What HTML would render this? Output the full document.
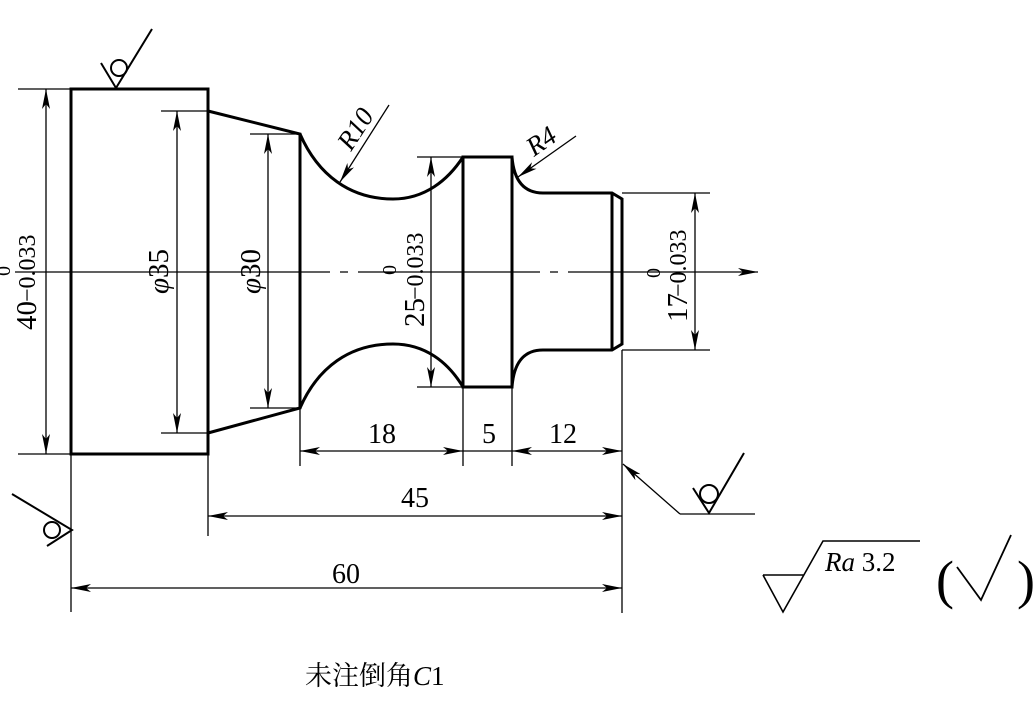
<!DOCTYPE html>
<html><head><meta charset="utf-8"><style>
html,body{margin:0;padding:0;background:#fff;}
svg{display:block}
text{font-family:"Liberation Serif","Noto Serif CJK SC",serif;fill:#000}
</style></head><body>
<svg width="1036" height="706" viewBox="0 0 1036 706" xmlns="http://www.w3.org/2000/svg">
<defs>
<marker id="a" viewBox="0 0 20 8" refX="20" refY="4" markerWidth="20" markerHeight="8" markerUnits="userSpaceOnUse" orient="auto-start-reverse">
<path d="M0,0 L20,4 L0,8 L5,4 Z" fill="#000"/></marker>
</defs>
<g fill="none" stroke="#000">
<g stroke-width="3">
<rect x="71" y="89" width="137" height="365"/>
<path d="M208,111 L300,134 L300,408 L208,433"/>
<path d="M300,134 C318,175 350,199 393,199 C425,199 448,180 463,157"/>
<path d="M300,408 C318,367 350,344 393,344 C425,344 448,362 463,387"/>
<rect x="463" y="157" width="49" height="230"/>
<path d="M512,157 C514,182 525,193 543,193 L612,193 L622,199 L622,344 L612,350 L543,350 C525,350 514,361 512,387"/>
<path d="M612,193 L612,350"/>
</g>
<g stroke-width="1.3">
<path d="M15,272 L330,272 M340,272 L348,272 M358,272 L540,272 M550,272 L558,272 M568,272 L740,272" stroke-width="1.2"/>
<path d="M740,272 L758,272" marker-end="url(#a)"/>
<path d="M18,89 L71,89 M18,454 L71,454"/>
<path d="M161,111 L208,111 M161,433 L208,433"/>
<path d="M250,134 L300,134 M250,408 L300,408"/>
<path d="M417,157 L463,157 M417,387 L463,387"/>
<path d="M622,193 L710,193 M622,350 L710,350"/>
<path d="M300,408 L300,466 M463,387 L463,466 M512,387 L512,466 M622,350 L622,613 M208,454 L208,536 M71,454 L71,612"/>
<path d="M46,89 L46,454" marker-start="url(#a)" marker-end="url(#a)"/>
<path d="M177,111 L177,433" marker-start="url(#a)" marker-end="url(#a)"/>
<path d="M268,134 L268,408" marker-start="url(#a)" marker-end="url(#a)"/>
<path d="M431,157 L431,387" marker-start="url(#a)" marker-end="url(#a)"/>
<path d="M695,193 L695,350" marker-start="url(#a)" marker-end="url(#a)"/>
<path d="M300,451 L463,451" marker-start="url(#a)" marker-end="url(#a)"/>
<path d="M463,451 L512,451"/>
<path d="M512,451 L622,451" marker-start="url(#a)" marker-end="url(#a)"/>
<path d="M208,516 L622,516" marker-start="url(#a)" marker-end="url(#a)"/>
<path d="M71,588 L622,588" marker-start="url(#a)" marker-end="url(#a)"/>
<path d="M389,105 L340,182" marker-end="url(#a)"/>
<path d="M576,136 L518,177" marker-end="url(#a)"/>
<path d="M680,514 L623,464" marker-end="url(#a)"/>
<path d="M680,514 L755,514"/>
</g>
<g stroke-width="2">
<path d="M101,63 L116,88 L152,29"/><circle cx="119" cy="68" r="8"/>
<path d="M12,494 L72,530 L47,546"/><circle cx="52" cy="530" r="8"/>
<path d="M693,488 L709,513 L744,453"/><circle cx="709" cy="494" r="9"/>
<path d="M763,575 L804,575 M763,575 L783,612 L823,541 L920,541" stroke-width="1.6"/>
<path d="M957,567 L981,600 L1011,535" stroke-width="1.8"/>
</g>
</g>
<g font-size="28">
<text x="382" y="443" text-anchor="middle">18</text>
<text x="489" y="443" text-anchor="middle">5</text>
<text x="563" y="443" text-anchor="middle">12</text>
<text x="415" y="507" text-anchor="middle">45</text>
<text x="346" y="583" text-anchor="middle">60</text>
<text x="305" y="685" font-size="27">未注倒角<tspan font-style="italic">C</tspan>1</text>
<text x="825" y="571" font-size="27"><tspan font-style="italic">Ra</tspan> 3.2</text>
<text x="936" y="598" font-size="54">(</text>
<text x="1017" y="598" font-size="54">)</text>
<text transform="translate(351,152) rotate(-57)" font-style="italic" font-size="27">R10</text>
<text transform="translate(534,157) rotate(-35)" font-style="italic" font-size="27">R4</text>
<g transform="translate(36,330) rotate(-90)"><text x="0" y="0" font-size="29">40</text><text x="28" y="-1" font-size="24">−0.033</text><text x="54" y="-26" font-size="20">0</text></g>
<g transform="translate(424,327) rotate(-90)"><text x="0" y="0" font-size="29">25</text><text x="27" y="-1" font-size="24">−0.033</text><text x="52" y="-28" font-size="20">0</text></g>
<g transform="translate(687,322) rotate(-90)"><text x="0" y="0" font-size="29">17</text><text x="25" y="-1" font-size="24">−0.033</text><text x="44" y="-27" font-size="20">0</text></g>
<g transform="translate(168,294) rotate(-90)"><text x="0" y="0" font-size="29"><tspan font-style="italic">φ</tspan>35</text></g>
<g transform="translate(260,294) rotate(-90)"><text x="0" y="0" font-size="29"><tspan font-style="italic">φ</tspan>30</text></g>
</g>
</svg>
</body></html>
